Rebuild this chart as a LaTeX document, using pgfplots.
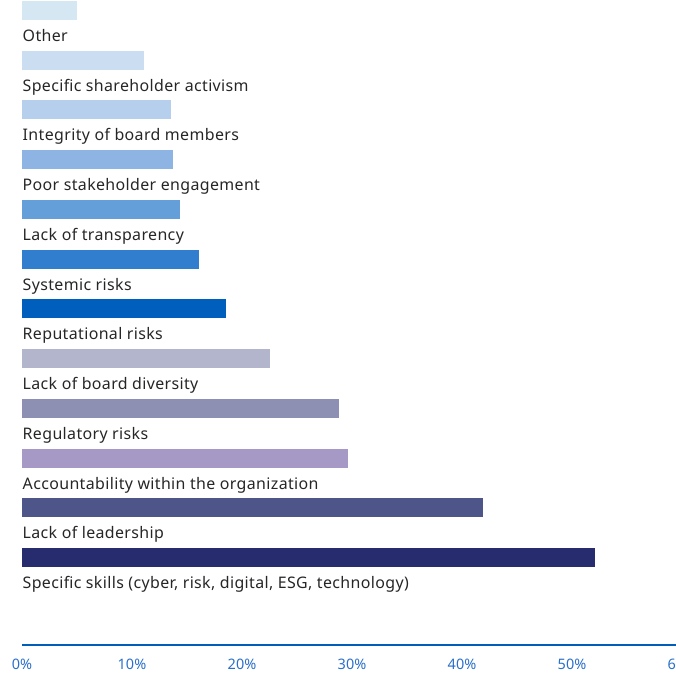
\documentclass[border=0pt]{standalone}
\usepackage{pgfplots}
\pgfplotsset{compat=1.18}
\usepackage{fontspec}
\setmainfont{Noto Sans}
\newfontfamily\catfont{Noto Sans}[LetterSpace=2.3]

\definecolor{cOther}{HTML}{D6E7F4}
\definecolor{cActivism}{HTML}{CADDF1}
\definecolor{cIntegrity}{HTML}{B5CFED}
\definecolor{cEngage}{HTML}{8DB4E3}
\definecolor{cTransp}{HTML}{659FD9}
\definecolor{cSystemic}{HTML}{327ECE}
\definecolor{cReput}{HTML}{005EBD}
\definecolor{cDiversity}{HTML}{B3B5CD}
\definecolor{cRegul}{HTML}{8E90B3}
\definecolor{cAccount}{HTML}{A699C6}
\definecolor{cLeader}{HTML}{4E5589}
\definecolor{cSkills}{HTML}{262C6D}
\definecolor{axisblue}{HTML}{005EB8}
\definecolor{tickblue}{HTML}{2A6FCB}
\definecolor{labelgray}{HTML}{262626}

\tikzstyle{catlabel}=[anchor=base west, inner sep=0pt, yshift=-31bp, xshift=0.5bp,
  text=labelgray, font=\catfont\fontsize{16}{19}\selectfont]

\begin{document}
\begin{tikzpicture}
\begin{axis}[
  x=11bp, y=49.75bp,
  xmin=0, xmax=60,
  ymin=-12.754, ymax=0.211,
  clip=false,
  axis x line=bottom,
  axis y line=none,
  x axis line style={color=axisblue, line width=2bp, -},
  xtick={0,10,20,30,40,50,60},
  major tick length=0pt,
  xticklabel={\pgfmathprintnumber{\tick}\%},
  /pgf/number format/assume math mode=true,
  xticklabel style={text=tickblue, font=\fontsize{14.5}{17}\selectfont, yshift=-11bp},
  ytick=\empty,
  xbar, bar width=19bp, bar shift=0pt,
]
\addplot[fill=cOther, draw=none] coordinates {(5.0,0)};
\addplot[fill=cActivism, draw=none] coordinates {(11.1,-1)};
\addplot[fill=cIntegrity, draw=none] coordinates {(13.5,-2)};
\addplot[fill=cEngage, draw=none] coordinates {(13.7,-3)};
\addplot[fill=cTransp, draw=none] coordinates {(14.4,-4)};
\addplot[fill=cSystemic, draw=none] coordinates {(16.1,-5)};
\addplot[fill=cReput, draw=none] coordinates {(18.5,-6)};
\addplot[fill=cDiversity, draw=none] coordinates {(22.5,-7)};
\addplot[fill=cRegul, draw=none] coordinates {(28.8,-8)};
\addplot[fill=cAccount, draw=none] coordinates {(29.6,-9)};
\addplot[fill=cLeader, draw=none] coordinates {(41.9,-10)};
\addplot[fill=cSkills, draw=none] coordinates {(52.1,-11)};

\node[catlabel] at (axis cs:0,0) {Other};
\node[catlabel] at (axis cs:0,-1) {Specific shareholder activism};
\node[catlabel] at (axis cs:0,-2) {Integrity of board members};
\node[catlabel] at (axis cs:0,-3) {Poor stakeholder engagement};
\node[catlabel] at (axis cs:0,-4) {Lack of transparency};
\node[catlabel] at (axis cs:0,-5) {Systemic risks};
\node[catlabel] at (axis cs:0,-6) {Reputational risks};
\node[catlabel] at (axis cs:0,-7) {Lack of board diversity};
\node[catlabel] at (axis cs:0,-8) {Regulatory risks};
\node[catlabel] at (axis cs:0,-9) {Accountability within the organization};
\node[catlabel] at (axis cs:0,-10) {Lack of leadership};
\node[catlabel] at (axis cs:0,-11) {Specific skills (cyber, risk, digital, ESG, technology)};

\coordinate (tl) at (axis cs:-2,0.211);
\coordinate (br) at (axis cs:59.4545,-13.377);
\end{axis}
\pgfresetboundingbox
\path[use as bounding box] (tl) rectangle (br);
\end{tikzpicture}
\end{document}
